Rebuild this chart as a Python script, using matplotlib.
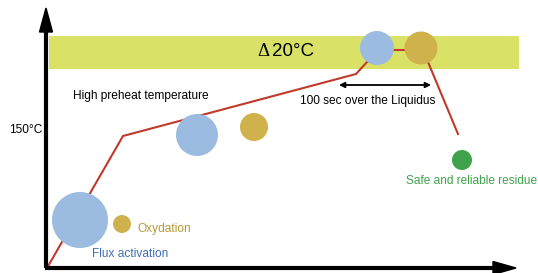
import matplotlib
matplotlib.use("Agg")
import matplotlib.pyplot as plt
from matplotlib.patches import Circle, Rectangle, FancyArrow

plt.rcParams['font.family'] = ['Liberation Sans', 'DejaVu Sans']

# reflow profile (x = time, y = temperature in canvas units, y grows downward)
profile_x = [47, 123, 356, 367, 394, 405]
profile_y = [268, 136, 74, 62, 50, 50]
cool_x = [428, 458]
cool_y = [62, 134]

# bubbles: (x, y, radius)
blue_x = [80, 197, 377]
blue_y = [220, 135, 48]
blue_r = [28, 21, 17]
gold_x = [122, 254, 421]
gold_y = [224, 127, 48]
gold_r = [9, 14, 16.5]
green_x = [462]
green_y = [160]
green_r = [10]

BLUE = '#9bbbe1'
GOLD = '#d0b24d'
GREEN = '#3ea34c'
RED = '#c0392b'
BAND = '#d9e166'

FS = 8.6

fig = plt.figure(figsize=(5.38, 2.73), dpi=100)
ax = fig.add_axes([0, 0, 1, 1])
ax.set_xlim(0, 538)
ax.set_ylim(273, 0)
ax.axis('off')

# liquidus band
ax.add_patch(Rectangle((49, 36), 470, 33, facecolor=BAND, edgecolor='none', zorder=1))
ax.text(269, 51, 'Δ', fontsize=13.5, ha='right', va='center', zorder=5,
        family=['Liberation Serif', 'DejaVu Serif'])
ax.text(272, 51, '20°C', fontsize=13.5, ha='left', va='center', zorder=5)

# profile line
ax.plot(profile_x, profile_y, color=RED, lw=1.5, zorder=2, solid_joinstyle='miter')
ax.plot(cool_x, cool_y, color=RED, lw=1.5, zorder=2)

for xs, ys, rs, c in [(blue_x, blue_y, blue_r, BLUE), (gold_x, gold_y, gold_r, GOLD),
                      (green_x, green_y, green_r, GREEN)]:
    for x, y, r in zip(xs, ys, rs):
        ax.add_patch(Circle((x, y), r, facecolor=c, edgecolor='none', zorder=3))

# axes arrows
ax.plot([46, 46], [268, 30], color='black', lw=3, zorder=4, solid_capstyle='butt')
ax.add_patch(FancyArrow(46, 32, 0, -24, width=0.01, head_width=13, head_length=24,
                        length_includes_head=True, color='black', zorder=4))
ax.plot([45, 495], [268, 268], color='black', lw=3, zorder=4, solid_capstyle='butt')
ax.add_patch(FancyArrow(493, 268, 23, 0, width=0.01, head_width=13, head_length=23,
                        length_includes_head=True, color='black', zorder=4))

# double arrow
ax.annotate('', xy=(339, 85), xytext=(431, 85),
            arrowprops=dict(arrowstyle='<|-|>', color='black', lw=1.3,
                            mutation_scale=8, shrinkA=0, shrinkB=0))

ax.text(42, 130, '150°C', fontsize=FS, ha='right', va='center')
ax.text(73, 96, 'High preheat temperature', fontsize=FS, ha='left', va='center')
ax.text(368, 101, '100 sec over the Liquidus', fontsize=FS, ha='center', va='center')
ax.text(406, 181, 'Safe and reliable residue', fontsize=FS, ha='left', va='center', color=GREEN)
ax.text(137, 229, 'Oxydation', fontsize=FS, ha='left', va='center', color='#b89a3a')
ax.text(92, 254, 'Flux activation', fontsize=FS, ha='left', va='center', color='#3f6fb3')

fig.savefig('out.png', dpi=100)
